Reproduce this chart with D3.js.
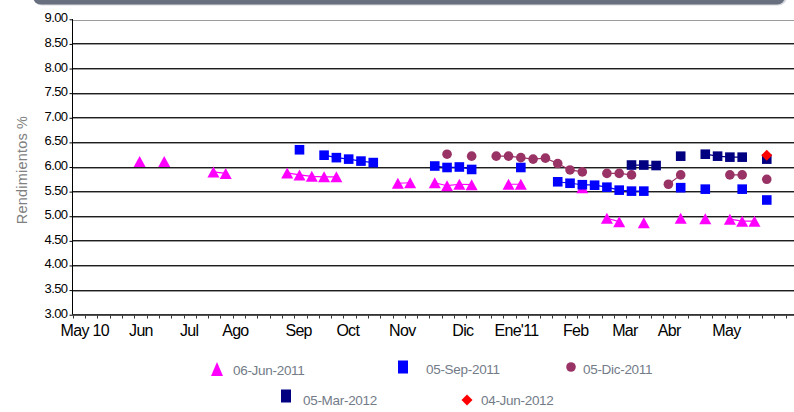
<!DOCTYPE html>
<html>
<head>
<meta charset="utf-8">
<title>Rendimientos</title>
<script src="https://d3js.org/d3.v7.min.js"></script>
<style>
  body { margin: 0; background: #fff; }
  svg { display: block; font-family: "Liberation Sans", Arial, sans-serif; }
</style>
</head>
<body>
<div id="chart"></div>
<script>
// weekly observations (Fridays) from May 7 2010 to Jun 3 2011
var weeks = d3.timeFriday.range(new Date(2010, 4, 7), new Date(2011, 5, 4));
var n = null;

// 06-Jun-2011
var jun11 = [
  n, n, n, n, n, 6.11, n, 6.11, n, n,
  n, 5.90, 5.87, n, n, n, n, 5.88, 5.84, 5.81,
  5.80, 5.80, n, n, n, n, 5.67, 5.68, n, 5.68,
  5.62, 5.65, 5.64, n, n, 5.65, 5.65, n, n, n,
  n, 5.58, n, 4.96, 4.89, n, 4.87, n, n, 4.96,
  n, 4.95, n, 4.94, 4.90, 4.90, n
];
// 05-Sep-2011
var sep11 = [
  n, n, n, n, n, n, n, n, n, n,
  n, n, n, n, n, n, n, n, 6.35, n,
  6.24, 6.19, 6.16, 6.12, 6.09, n, n, n, n, 6.02,
  5.99, 6.00, 5.95, n, n, n, 5.99, n, n, 5.70,
  5.67, 5.64, 5.63, 5.59, 5.53, 5.51, 5.51, n, n, 5.58,
  n, 5.55, n, n, 5.55, n, 5.33
];
// 05-Dic-2011
var dic11 = [
  n, n, n, n, n, n, n, n, n, n,
  n, n, n, n, n, n, n, n, n, n,
  n, n, n, n, n, n, n, n, n, n,
  6.26, n, 6.22, n, 6.22, 6.22, 6.19, 6.16, 6.18, 6.07,
  5.94, 5.90, n, 5.87, 5.87, 5.84, n, n, 5.65, 5.84,
  n, n, n, 5.84, 5.84, n, 5.75
];
// 05-Mar-2012
var mar12 = [
  n, n, n, n, n, n, n, n, n, n,
  n, n, n, n, n, n, n, n, n, n,
  n, n, n, n, n, n, n, n, n, n,
  n, n, n, n, n, n, n, n, n, n,
  n, n, n, n, n, 6.04, 6.04, 6.03, n, 6.22,
  n, 6.26, 6.22, 6.20, 6.20, n, 6.16
];
// 04-Jun-2012
var jun12 = [
  n, n, n, n, n, n, n, n, n, n,
  n, n, n, n, n, n, n, n, n, n,
  n, n, n, n, n, n, n, n, n, n,
  n, n, n, n, n, n, n, n, n, n,
  n, n, n, n, n, n, n, n, n, n,
  n, n, n, n, n, n, 6.24
];

var seriesNames = ["06-Jun-2011", "05-Sep-2011", "05-Dic-2011", "05-Mar-2012", "04-Jun-2012"];
var yTicks = [3, 3.5, 4, 4.5, 5, 5.5, 6, 6.5, 7, 7.5, 8, 8.5, 9];
var monthLabels = ["May 10", "Jun", "Jul", "Ago", "Sep", "Oct", "Nov", "Dic", "Ene'11", "Feb", "Mar", "Abr", "May"];
var monthDates = ["2010-04-27", "2010-06-05", "2010-07-04", "2010-07-28", "2010-09-02", "2010-10-01",
                  "2010-10-31", "2010-12-06", "2010-12-30", "2011-02-07", "2011-03-07", "2011-04-02", "2011-05-03"];

var W = 794, H = 412;
var svg = d3.select("#chart").append("svg")
  .attr("width", W)
  .attr("height", H);

var start = new Date(2010, 4, 3, 12);
var x = d3.scaleTime()
  .domain([start, d3.timeDay.offset(start, 411)])
  .range([72, 794]);
var y = d3.scaleLinear()
  .domain([3, 9])
  .range([314.7, 19.3]);

// header bar
svg.append("rect")
  .attr("x", 33).attr("y", -12).attr("width", 754).attr("height", 17.5)
  .attr("rx", 9).attr("fill", "#d4d7dc");
svg.append("rect")
  .attr("x", 33).attr("y", -12).attr("width", 752).attr("height", 16.5)
  .attr("rx", 8).attr("fill", "#687080");

// gridlines
var grid = svg.append("g");
yTicks.filter(function (v) { return v > 3; }).forEach(function (v) {
  var yy = Math.floor(y(v)) + 0.5;
  if (v < 9) {
    grid.append("line").attr("x1", 72).attr("x2", W).attr("y1", yy).attr("y2", yy)
      .attr("stroke", "#1e1e1e");
  }
  grid.append("line").attr("x1", 72).attr("x2", W).attr("y1", yy + 1).attr("y2", yy + 1)
    .attr("stroke", "#9c9c9c");
});

// y axis
var fmt = d3.format(".2f");
var yAxis = svg.append("g")
  .attr("transform", "translate(72.5,0)")
  .call(d3.axisLeft(y).tickValues(yTicks).tickFormat(fmt).tickSize(3).tickPadding(2));
yAxis.select(".domain").remove();
yAxis.selectAll("line").attr("stroke", "#000");
yAxis.selectAll("text")
  .attr("y", -1.7)
  .attr("fill", "#000")
  .style("font-size", "13px")
  .style("letter-spacing", "-0.6px")
  .style("font-family", "'Liberation Sans', Arial, sans-serif");
svg.append("line")
  .attr("x1", 72.5).attr("x2", 72.5).attr("y1", 19).attr("y2", 315)
  .attr("stroke", "#000");

// x axis
var xAxis = svg.append("g").attr("transform", "translate(0," + 314.5 + ")");
xAxis.append("line").attr("x1", 72).attr("x2", W).attr("y1", 0).attr("y2", 0)
  .attr("stroke", "#333");
xAxis.append("line").attr("x1", 72).attr("x2", W).attr("y1", 1).attr("y2", 1)
  .attr("stroke", "#555");
var weekTicks = d3.timeDay.range(start, d3.timeDay.offset(start, 412), 7);
xAxis.selectAll("line.tick")
  .data(weekTicks)
  .enter().append("line")
  .attr("class", "tick")
  .attr("x1", function (d) { return Math.round(x(d)) + 0.5; })
  .attr("x2", function (d) { return Math.round(x(d)) + 0.5; })
  .attr("y1", 1).attr("y2", 4)
  .attr("stroke", "#333");
xAxis.selectAll("text")
  .data(monthLabels)
  .enter().append("text")
  .attr("x", function (d, i) { return x(d3.timeParse("%Y-%m-%d")(monthDates[i])); })
  .attr("y", 21.5)
  .attr("fill", "#000")
  .style("font-size", "16px")
  .style("letter-spacing", "-0.7px")
  .text(function (d) { return d; });

// y title
svg.append("text")
  .attr("transform", "translate(27,170) rotate(-90)")
  .attr("text-anchor", "middle")
  .attr("fill", "#808080")
  .style("font-size", "14.5px")
  .style("letter-spacing", "0.2px")
  .text("Rendimientos %");

// markers
function shape(type) {
  if (type === "tri") return "M0,-5.5L6,5.5L-6,5.5Z";
  if (type === "sq") return "M-4.8,-4.8H4.8V4.8H-4.8Z";
  if (type === "circ") return d3.symbol(d3.symbolCircle, Math.PI * 4.8 * 4.8)();
  return "M0,-5.5L5.5,0L0,5.5L-5.5,0Z";
}

var series = [
  { name: seriesNames[0], values: jun11, color: "#ff00ff", type: "tri" },
  { name: seriesNames[1], values: sep11, color: "#0000ff", type: "sq" },
  { name: seriesNames[2], values: dic11, color: "#993366", type: "circ" },
  { name: seriesNames[3], values: mar12, color: "#000080", type: "sq" },
  { name: seriesNames[4], values: jun12, color: "#ff0000", type: "dia" }
];

var line = d3.line()
  .defined(function (d) { return d != null; })
  .x(function (d, i) { return x(weeks[i]); })
  .y(function (d) { return y(d); });

series.forEach(function (s) {
  var g = svg.append("g");
  g.append("path")
    .attr("d", line(s.values))
    .attr("fill", "none")
    .attr("stroke", s.color)
    .attr("stroke-width", 1.2);
  g.selectAll("path.m")
    .data(s.values.map(function (v, i) { return { v: v, d: weeks[i] }; })
      .filter(function (p) { return p.v != null; }))
    .enter().append("path")
    .attr("class", "m")
    .attr("d", shape(s.type))
    .attr("transform", function (p) { return "translate(" + x(p.d) + "," + y(p.v) + ")"; })
    .attr("fill", s.color);
});

// legend
var legend = [
  { mx: 217, my: 369, tx: 233, ty: 375 },
  { mx: 403, my: 367, tx: 426, ty: 374 },
  { mx: 571, my: 367, tx: 583, ty: 374 },
  { mx: 286, my: 396, tx: 303, ty: 405 },
  { mx: 467, my: 400, tx: 481, ty: 405 }
];
var lg = svg.append("g");
series.forEach(function (s, i) {
  var p = legend[i];
  var d = shape(s.type);
  if (s.type === "tri") d = "M0,-7L6,7L-6,7Z";
  if (s.type === "sq") d = "M-5,-6.5H5V6.5H-5Z";
  lg.append("path")
    .attr("d", d)
    .attr("transform", "translate(" + p.mx + "," + p.my + ")")
    .attr("fill", s.color);
  lg.append("text")
    .attr("x", p.tx).attr("y", p.ty)
    .attr("fill", "#737b88")
    .style("font-size", "13.5px")
    .style("letter-spacing", "-0.3px")
    .text(s.name);
});
</script>
</body>
</html>
